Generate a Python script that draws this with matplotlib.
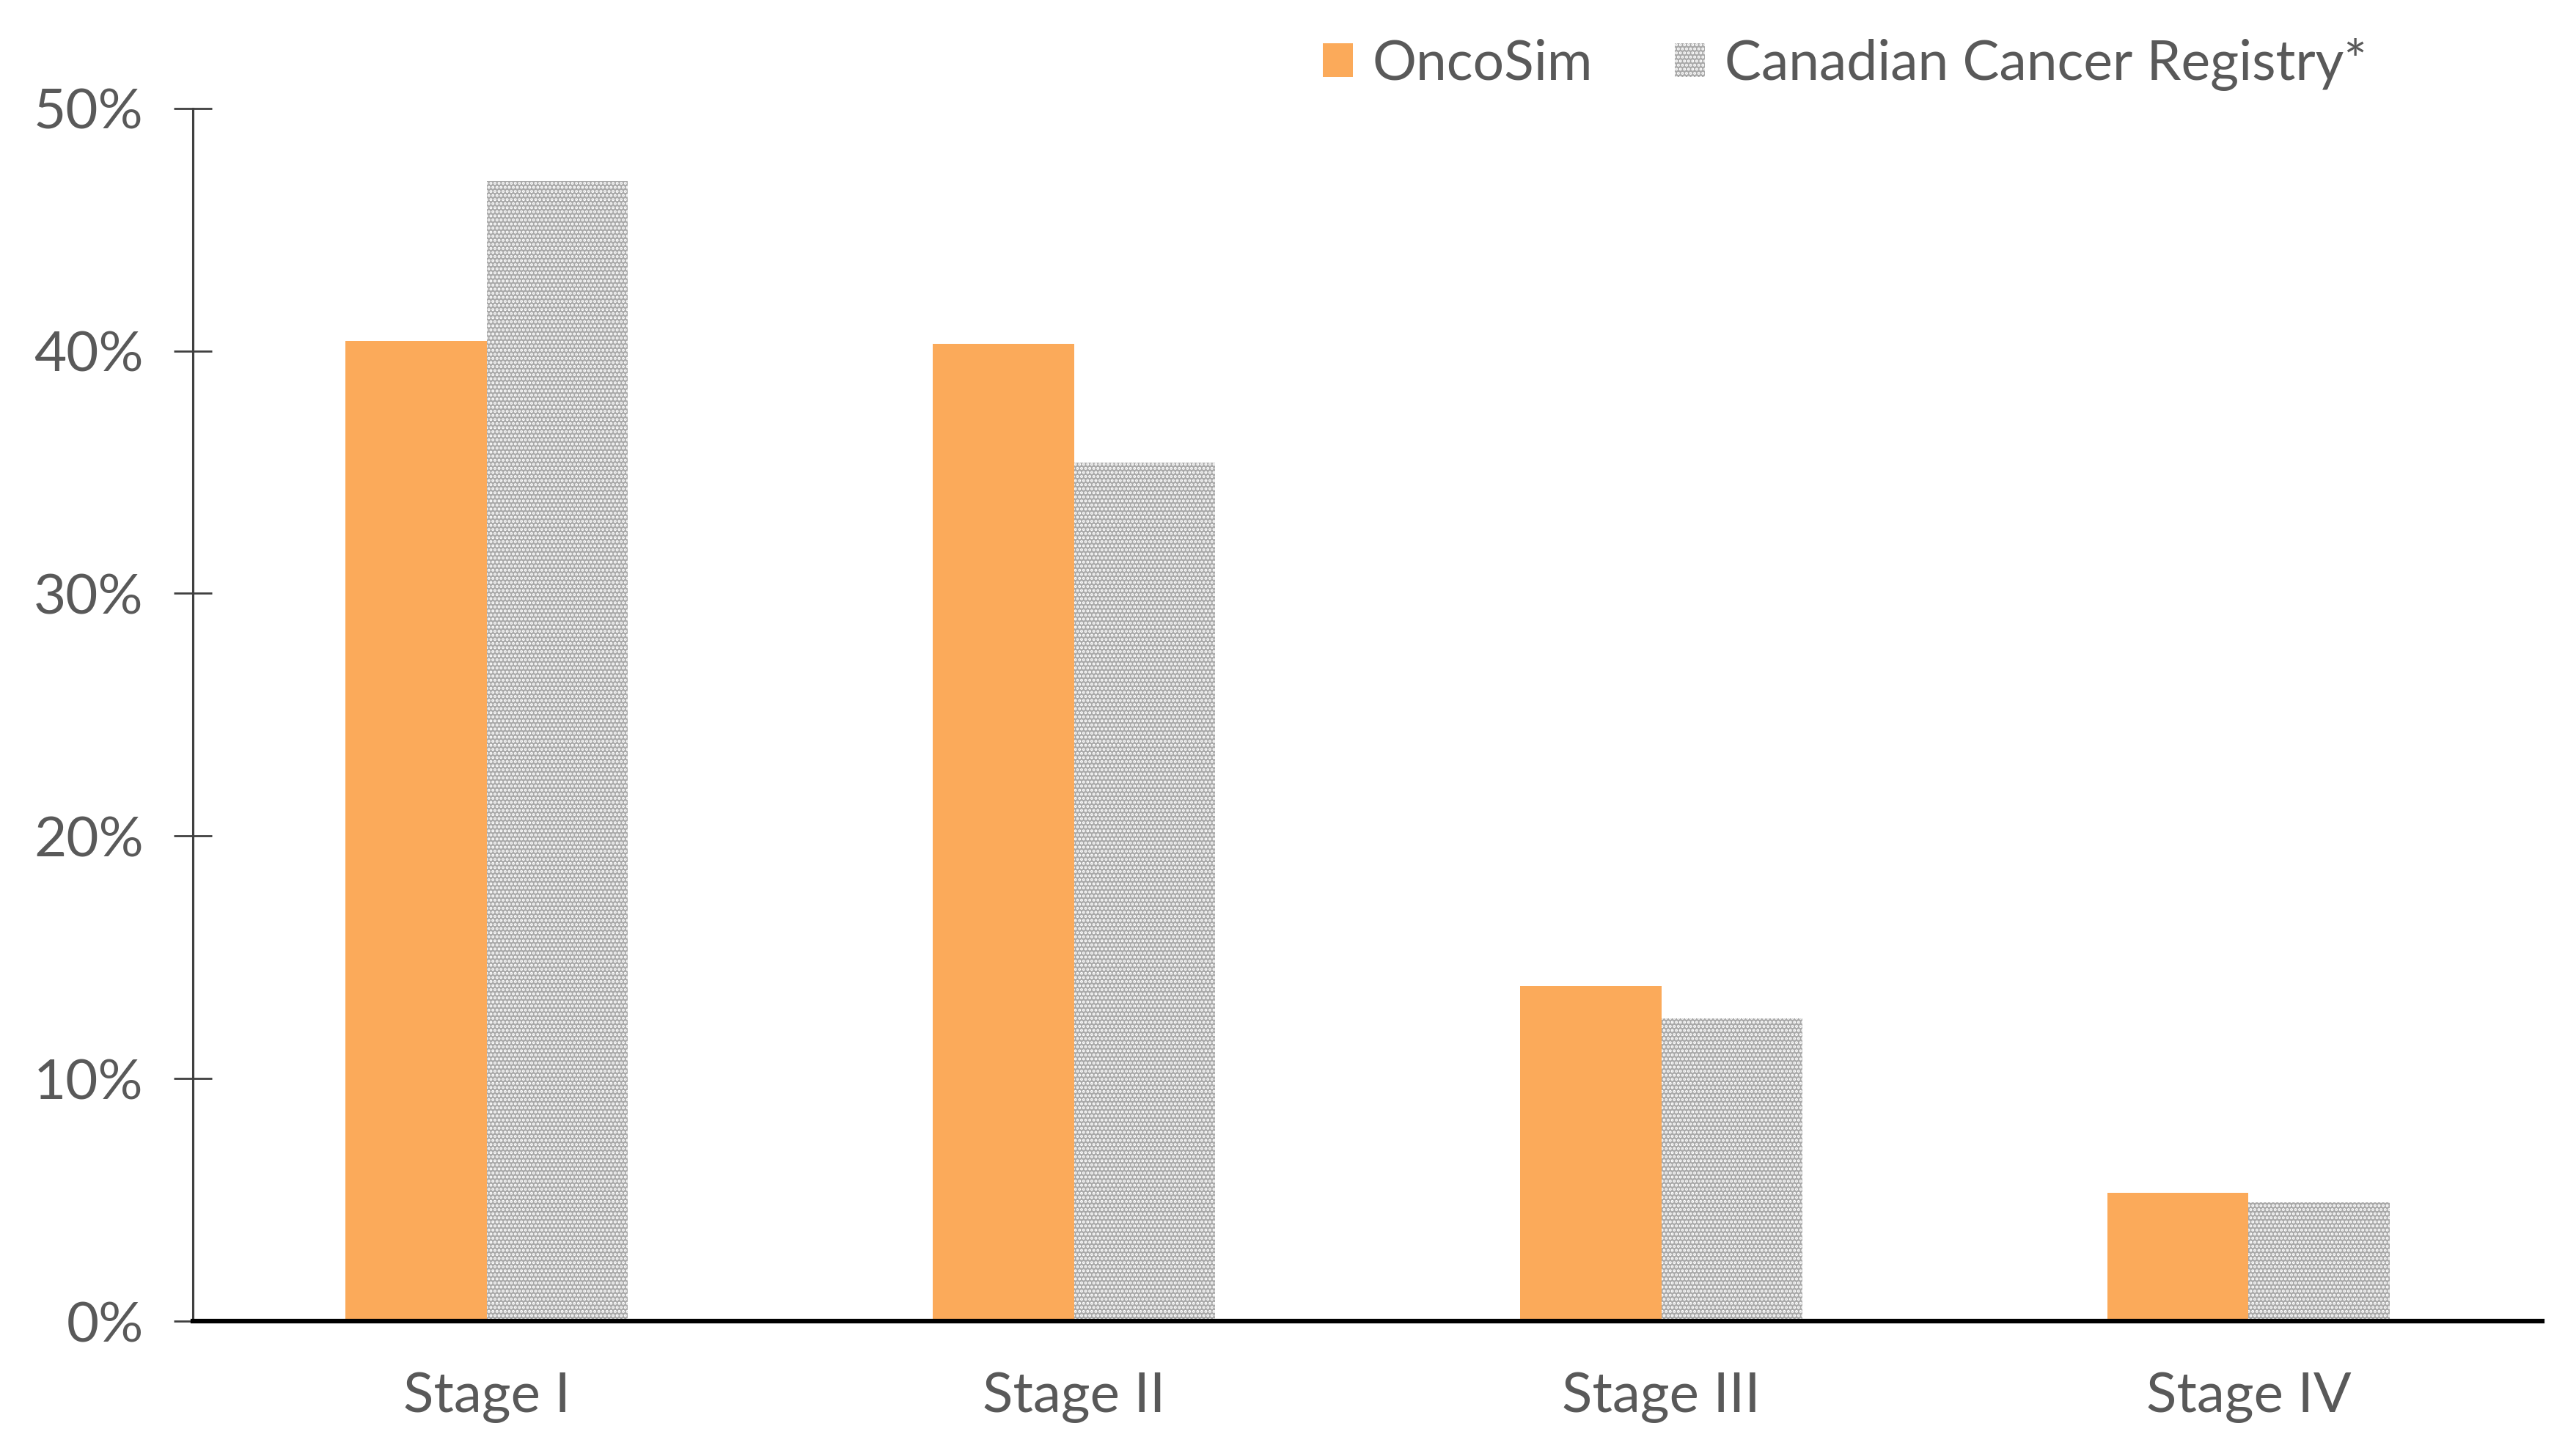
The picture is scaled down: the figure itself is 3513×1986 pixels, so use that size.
import numpy as np
import matplotlib.pyplot as plt
from matplotlib.ticker import PercentFormatter

stages = ['Stage I', 'Stage II', 'Stage III', 'Stage IV']
oncosim = [40.4, 40.3, 13.8, 5.3]
registry = [47.0, 35.4, 12.5, 4.9]
yticks = [0, 10, 20, 30, 40, 50]

plt.rcParams['font.family'] = ['Lato', 'DejaVu Sans']
plt.rcParams['hatch.color'] = 'white'
plt.rcParams['hatch.linewidth'] = 2.0

txt = '#595959'

fig = plt.figure(figsize=(35.13, 19.86), dpi=100)
ax = fig.add_axes([0.0749, 0.0926, 0.912, 0.833])

x = np.arange(len(stages)) + 0.5
w = 0.24
ax.bar(x - w/2, oncosim, width=w, color='#fbaa5a', linewidth=0, label='OncoSim')
ax.bar(x + w/2, registry, width=w, color='#a9a9a9', edgecolor='white', linewidth=0,
       hatch='...', label='Canadian Cancer Registry*')

ax.set_xlim(0, 4)
ax.set_ylim(0, 50)
ax.set_yticks(yticks)
ax.yaxis.set_major_formatter(PercentFormatter(decimals=0))
ax.set_xticks(x)
ax.set_xticklabels(stages)

for s in ['top', 'right']:
    ax.spines[s].set_visible(False)
ax.spines['left'].set_color('#404040')
ax.spines['left'].set_linewidth(2.2)
ax.spines['bottom'].set_color('black')
ax.spines['bottom'].set_linewidth(4.5)
ax.spines['bottom'].set_zorder(5)

ax.tick_params(axis='y', direction='inout', length=37, width=2, color='#404040',
               pad=30, labelsize=55, labelcolor=txt)
ax.tick_params(axis='x', length=0, pad=50, labelsize=55, labelcolor=txt)

fig.legend(loc='upper right', bbox_to_anchor=(0.938, 1.008), ncol=2, frameon=False,
           fontsize=54, labelcolor=txt, handlelength=0.55, handleheight=0.55,
           handletextpad=0.35, columnspacing=1.5)

fig.savefig('out.png', dpi=100, facecolor='white')
